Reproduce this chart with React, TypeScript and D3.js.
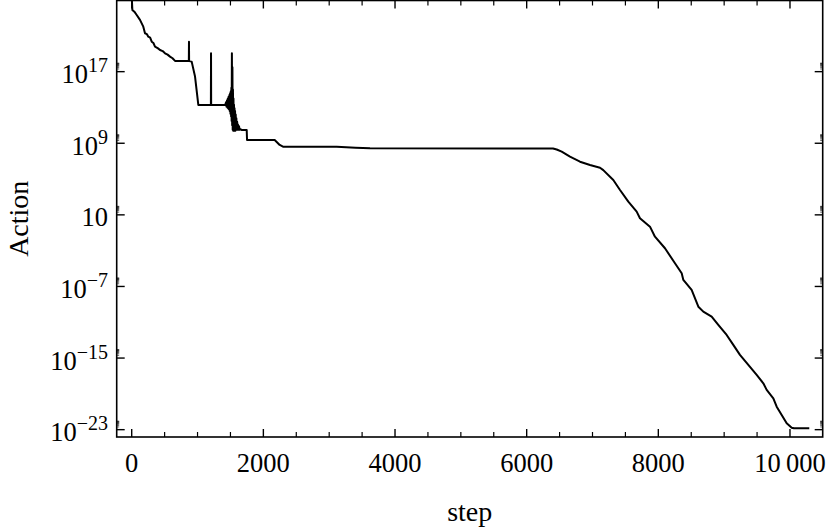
import React from "react";
import * as d3 from "d3";

// step values and log10(Action)
const steps: number[] = [
  0, 10, 40, 76, 126, 176, 202, 230, 252, 280, 304, 330, 354, 400, 430, 470, 506, 545, 582, 620, 658, 835, 868, 870, 872, 890,
  911, 962, 1012, 1203, 1205, 1207, 1420,
  1435, 1440, 1448, 1453, 1460, 1465, 1472, 1477, 1484, 1489, 1495, 1500, 1505, 1510, 1514, 1518,
  1522, 1526, 1530, 1534, 1538, 1542, 1546, 1550, 1554, 1558, 1562, 1566, 1570, 1575,
  1580, 1585, 1590, 1596, 1602, 1608, 1614, 1620, 1630, 1640, 1650, 1671,
  1747, 1752, 2172, 2248, 2298, 3114, 3400, 3620, 6400, 6456, 6532, 6658, 6810, 6962,
  7114, 7164, 7316, 7418, 7544, 7671, 7721, 7873, 7949, 8101, 8253, 8355, 8380, 8506,
  8608, 8683, 8810, 8911, 9038, 9139, 9240, 9367, 9494, 9595, 9646, 9747, 9798, 9874,
  9950, 10026, 10060, 10293,
];
const logAction: number[] = [
  25.4, 23.9, 23.7, 23.33, 22.78, 22.03, 21.29, 21.2, 20.91, 20.8, 20.35, 20.2, 19.79, 19.6, 19.42, 19.3, 19.05, 18.9, 18.68, 18.5, 18.2, 18.2, 18.2, 20.35, 18.2, 18.15,
  18.12, 16.45, 13.28, 13.28, 19.05, 13.28, 13.28,
  13.6, 13.1, 13.8, 13.0, 14.0, 12.9, 14.2, 12.8, 14.4, 12.6, 14.6, 12.3, 14.8, 12.0, 15.2, 11.5,
  19.05, 11.0, 17.5, 10.5, 15.0, 10.4, 14.0, 10.5, 13.3, 10.4, 12.9, 10.5, 12.6, 10.4,
  12.2, 10.5, 11.8, 10.5, 11.4, 10.5, 11.1, 10.5, 10.9, 10.5, 10.6, 10.48,
  10.48, 9.37, 9.37, 8.81, 8.62, 8.62, 8.5, 8.44, 8.42, 8.3, 8.06, 7.5, 6.94, 6.57,
  6.27, 6.0, 4.9, 3.78, 2.47, 1.36, 0.62, -0.32, -1.44, -2.73, -4.41, -5.53, -6.27, -7.39,
  -9.26, -9.81, -10.37, -11.3, -12.42, -13.53, -14.65, -15.77, -16.89, -17.82, -18.56, -19.5, -20.43, -21.36,
  -22.29, -22.78, -22.85, -22.85,
];

const xMajorTicks: number[] = [0, 2000, 4000, 6000, 8000, 10000];
const xTickLabels: string[] = ["0", "2000", "4000", "6000", "8000", "10\u2009000"];
const xMinorTicks: number[] = [
  500, 1000, 1500, 2500, 3000, 3500, 4500, 5000, 5500, 6500, 7000, 7500, 8500, 9000, 9500, 10500,
];
const yTickExps: number[] = [17, 9, 1, -7, -15, -23];
const yMinorFactors: number[] = [2, 3, 4, 5, 6, 7, 8, 9];

const W = 831;
const H = 532;
const L = 116.7;
const R = 822.7;
const T = 0.5;
const B = 437;

const FONT = "'Liberation Serif', 'Times New Roman', serif";

export default function App() {
  const x = d3.scaleLinear().domain([-228, 10497]).range([L, R]);
  const y = d3.scaleLog().domain([Math.pow(10, -23.82), Math.pow(10, 24.95)]).range([B, T]);

  const data = steps.map((s, i) => [s, Math.pow(10, logAction[i])] as [number, number]);
  const line = d3
    .line<[number, number]>()
    .x((d) => x(d[0]))
    .y((d) => y(d[1]));

  const majLen = 8;
  const minLen = 5;

  return (
    <svg
      width={W}
      height={H}
      style={{ position: "absolute", left: 0, top: 0, background: "#fff" }}
      fontFamily={FONT}
    >
      <defs>
        <clipPath id="plotclip">
          <rect x={L} y={T} width={R - L} height={B - T} />
        </clipPath>
      </defs>
      <rect x={0} y={0} width={W} height={H} fill="#fff" />

      <path
        d={line(data) || ""}
        fill="none"
        stroke="#000"
        strokeWidth={2}
        strokeLinejoin="round"
        clipPath="url(#plotclip)"
      />

      {/* x ticks */}
      {xMajorTicks.map((t) => (
        <g key={"xm" + t}>
          <line x1={x(t)} x2={x(t)} y1={B} y2={B - majLen} stroke="#000" strokeWidth={1.4} />
          <line x1={x(t)} x2={x(t)} y1={T} y2={T + majLen} stroke="#000" strokeWidth={1.4} />
        </g>
      ))}
      {xMinorTicks.filter((t) => x(t) < R).map((t) => (
        <g key={"xn" + t}>
          <line x1={x(t)} x2={x(t)} y1={B} y2={B - minLen} stroke="#000" strokeWidth={1.2} />
          <line x1={x(t)} x2={x(t)} y1={T} y2={T + minLen} stroke="#000" strokeWidth={1.2} />
        </g>
      ))}
      {xMajorTicks.map((t, i) => (
        <text
          key={"xl" + t}
          x={x(t)}
          y={471.5}
          textAnchor="middle"
          fontSize={26.5}
          fill="#000"
        >
          {xTickLabels[i]}
        </text>
      ))}

      {/* y ticks */}
      {yTickExps.map((e) => {
        const yy = y(Math.pow(10, e));
        return (
          <g key={"ym" + e}>
            <line x1={L} x2={L + majLen} y1={yy} y2={yy} stroke="#000" strokeWidth={1.4} />
            <line x1={R} x2={R - majLen} y1={yy} y2={yy} stroke="#000" strokeWidth={1.4} />
            {yMinorFactors.map((k) => {
              const ym = y(k * Math.pow(10, e));
              return (
                <g key={"yn" + k}>
                  <line x1={L} x2={L + 2.5} y1={ym} y2={ym} stroke="#000" strokeWidth={0.6} />
                  <line x1={R} x2={R - 2.5} y1={ym} y2={ym} stroke="#000" strokeWidth={0.6} />
                </g>
              );
            })}
            <text x={108} y={yy + 11.5} textAnchor="end" fontSize={26.5} fill="#000">
              <tspan>10</tspan>
              {e !== 1 && (
                <tspan fontSize={20} dy={-11}>
                  {e < 0 ? "\u2212" + Math.abs(e) : String(e)}
                </tspan>
              )}
            </text>
          </g>
        );
      })}

      {/* frame */}
      <rect x={L} y={T} width={R - L} height={B - T} fill="none" stroke="#000" strokeWidth={1.6} />

      {/* axis labels */}
      <text x={(L + R) / 2} y={521} textAnchor="middle" fontSize={28} fill="#000">
        step
      </text>
      <text
        transform={`translate(28, ${(T + B) / 2}) rotate(-90)`}
        textAnchor="middle"
        fontSize={28}
        fill="#000"
      >
        Action
      </text>
    </svg>
  );
}
